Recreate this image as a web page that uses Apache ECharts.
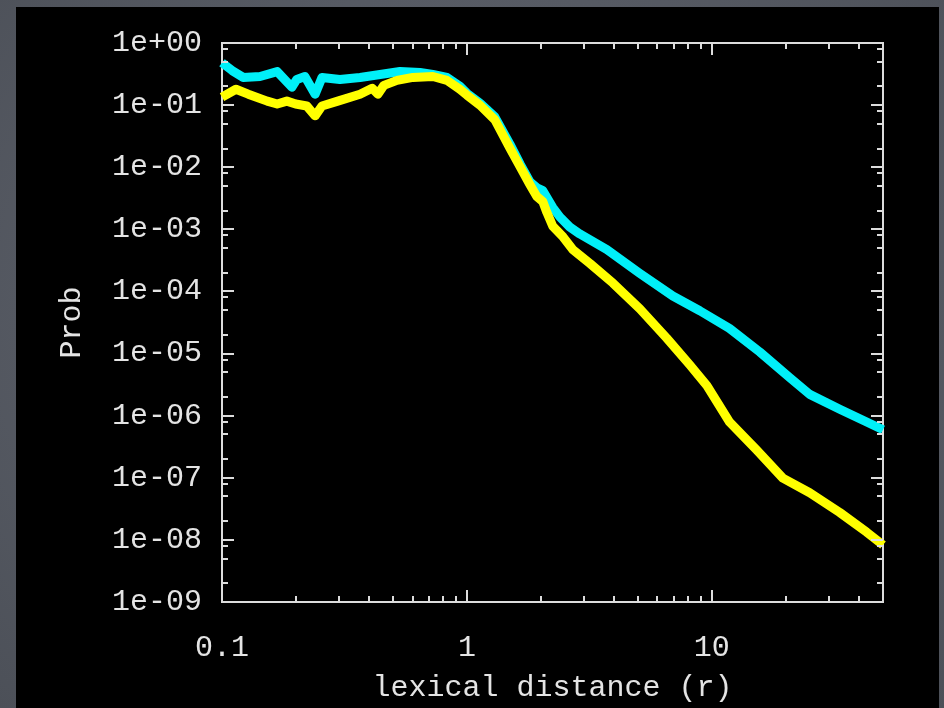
<!DOCTYPE html>
<html>
<head>
<meta charset="utf-8">
<title>Prob vs lexical distance</title>
<script src="https://cdn.jsdelivr.net/npm/echarts@6/dist/echarts.min.js"></script>
<style>
  html, body { margin: 0; padding: 0; }
  body {
    width: 944px; height: 708px; overflow: hidden; position: relative;
    background: radial-gradient(ellipse at 50% 45%, #62666f 0%, #565a63 60%, #4c5058 100%);
  }
  #frame { position: absolute; left: 16px; top: 7px; width: 923px; height: 701px; background: #000; }
  #chart { position: absolute; left: 0; top: 0; width: 944px; height: 708px; }
</style>
</head>
<body>
<div id="frame"></div>
<div id="chart"></div>
<script>
// lexical distance r and probability, cyan curve
const cyanR = [0.1, 0.110, 0.122, 0.143, 0.168, 0.193, 0.202, 0.218, 0.240, 0.256, 0.303,
  0.366, 0.442, 0.533, 0.643, 0.726, 0.829, 0.936, 1.0, 1.13, 1.30, 1.50, 1.65, 1.81,
  1.93, 2.04, 2.24, 2.40, 2.63, 2.89, 3.73, 5.08, 6.93, 8.93, 11.8, 15.7, 20.8, 25.1,
  33.3, 42.9, 50];
const cyanP = [0.482, 0.360, 0.279, 0.289, 0.347, 0.194, 0.259, 0.289, 0.150, 0.279, 0.259,
  0.279, 0.311, 0.347, 0.335, 0.311, 0.279, 0.201, 0.155, 0.108, 0.0648, 0.0233, 0.0112, 0.00582,
  0.00468, 0.00420, 0.00226, 0.00157, 0.00109, 0.000843, 0.000470, 0.000196, 8.46e-5, 4.89e-5,
  2.54e-5, 1.06e-5, 4.09e-6, 2.20e-6, 1.27e-6, 7.92e-7, 5.92e-7];

// lexical distance r and probability, yellow curve
const yellowR = [0.1, 0.114, 0.128, 0.153, 0.168, 0.184, 0.200, 0.222, 0.240, 0.256, 0.297,
  0.366, 0.410, 0.433, 0.458, 0.518, 0.602, 0.726, 0.829, 0.936, 1.0, 1.13, 1.30, 1.50,
  1.65, 1.81, 1.93, 2.04, 2.12, 2.24, 2.47, 2.71, 3.18, 3.95, 5.08, 6.55, 8.13, 9.55,
  11.8, 15.3, 19.5, 25.1, 33.3, 42.9, 50];
const yellowP = [0.134, 0.180, 0.150, 0.116, 0.104, 0.116, 0.104, 0.0968, 0.0672, 0.0968, 0.116,
  0.150, 0.187, 0.150, 0.208, 0.250, 0.279, 0.289, 0.250, 0.180, 0.145, 0.100, 0.0581, 0.0201,
  0.0101, 0.00522, 0.00337, 0.00281, 0.00188, 0.00113, 0.000755, 0.000470, 0.000282, 0.000136,
  5.26e-5, 1.76e-5, 6.57e-6, 3.05e-6, 7.92e-7, 2.75e-7, 9.89e-8, 5.73e-8, 2.76e-8, 1.33e-8, 8.27e-9];

// tick marks
const xMajorTicks = [0.1, 1, 10];
const xMinorTicks = [0.2, 0.3, 0.4, 0.5, 0.6, 0.7, 0.8, 0.9, 2, 3, 4, 5, 6, 7, 8, 9, 20, 30, 40];
const yMajorTicks = [1e-9, 1e-8, 1e-7, 1e-6, 1e-5, 1e-4, 1e-3, 1e-2, 1e-1, 1];
const yMinorMantissas = [2, 5, 8];

const AXIS_COLOR = '#dcdcdc';
const TEXT_COLOR = '#e4e4e4';
const FONT = '"Liberation Mono", "DejaVu Sans Mono", monospace';
const MAJOR_LEN = 12;
const MINOR_LEN = 6;

const zip = (a, b) => a.map((v, i) => [v, b[i]]);

// tick items: [x, y, kind(0 major / 1 minor), axis(0 x / 1 y)]
const tickData = [];
xMajorTicks.forEach(v => tickData.push([v, 1, 0, 0]));
xMinorTicks.forEach(v => tickData.push([v, 1, 1, 0]));
yMajorTicks.forEach(v => tickData.push([1, v, 0, 1]));
yMajorTicks.slice(0, -1).forEach(d => yMinorMantissas.forEach(m => tickData.push([1, +(m * d).toPrecision(3), 1, 1])));

function isPow10(v) {
  const e = Math.log10(v);
  return Math.abs(e - Math.round(e)) < 1e-6;
}

function sciLabel(v) {
  const e = Math.round(Math.log10(v));
  const s = e < 0 ? '-' : '+';
  const a = Math.abs(e);
  return '1e' + s + (a < 10 ? '0' + a : '' + a);
}

const chart = echarts.init(document.getElementById('chart'), null, { renderer: 'canvas' });

chart.setOption({
  backgroundColor: 'transparent',
  animation: false,
  grid: {
    left: 222, top: 43, right: 61, bottom: 97,
    show: true, borderColor: AXIS_COLOR, borderWidth: 2, backgroundColor: 'transparent'
  },
  xAxis: {
    type: 'log', logBase: 10, min: 0.1, max: 50, splitNumber: 10,
    name: 'lexical distance (r)', nameLocation: 'middle', nameGap: 71,
    nameTextStyle: { color: TEXT_COLOR, fontFamily: FONT, fontSize: 30 },
    axisLine: { show: false }, axisTick: { show: false }, splitLine: { show: false },
    minorTick: { show: false },
    axisLabel: {
      color: TEXT_COLOR, fontFamily: FONT, fontSize: 30, margin: 31,
      formatter: v => isPow10(v) ? String(+v.toPrecision(3)) : ''
    }
  },
  yAxis: {
    type: 'log', logBase: 10, min: 1e-9, max: 1, splitNumber: 10,
    name: 'Prob', nameLocation: 'middle', nameGap: 135, nameRotate: 90,
    nameTextStyle: { color: TEXT_COLOR, fontFamily: FONT, fontSize: 30 },
    axisLine: { show: false }, axisTick: { show: false }, splitLine: { show: false },
    minorTick: { show: false },
    axisLabel: {
      color: TEXT_COLOR, fontFamily: FONT, fontSize: 30, margin: 20,
      formatter: v => sciLabel(v)
    }
  },
  series: [
    {
      type: 'custom', name: 'ticks', silent: true, z: 5,
      encode: { x: 0, y: 1 },
      data: tickData,
      renderItem: function (params, api) {
        const cs = params.coordSys;
        const len = api.value(2) === 0 ? MAJOR_LEN : MINOR_LEN;
        const p = api.coord([api.value(0), api.value(1)]);
        const style = { stroke: AXIS_COLOR, lineWidth: 2 };
        if (api.value(3) === 0) {
          const x = Math.round(p[0]);
          const yb = cs.y + cs.height;
          return { type: 'group', children: [
            { type: 'line', shape: { x1: x, y1: yb, x2: x, y2: yb - len }, style: style },
            { type: 'line', shape: { x1: x, y1: cs.y, x2: x, y2: cs.y + len }, style: style }
          ] };
        }
        const y = Math.round(p[1]);
        const xr = cs.x + cs.width;
        return { type: 'group', children: [
          { type: 'line', shape: { x1: cs.x, y1: y, x2: cs.x + len, y2: y }, style: style },
          { type: 'line', shape: { x1: xr, y1: y, x2: xr - len, y2: y }, style: style }
        ] };
      }
    },
    {
      type: 'line', name: 'cyan', data: zip(cyanR, cyanP),
      showSymbol: false, symbol: 'none', clip: false, z: 3,
      lineStyle: { color: '#00f0f8', width: 9, join: 'round' }
    },
    {
      type: 'line', name: 'yellow', data: zip(yellowR, yellowP),
      showSymbol: false, symbol: 'none', clip: false, z: 4,
      lineStyle: { color: '#ffff00', width: 9, join: 'round' }
    }
  ]
});
</script>
</body>
</html>
